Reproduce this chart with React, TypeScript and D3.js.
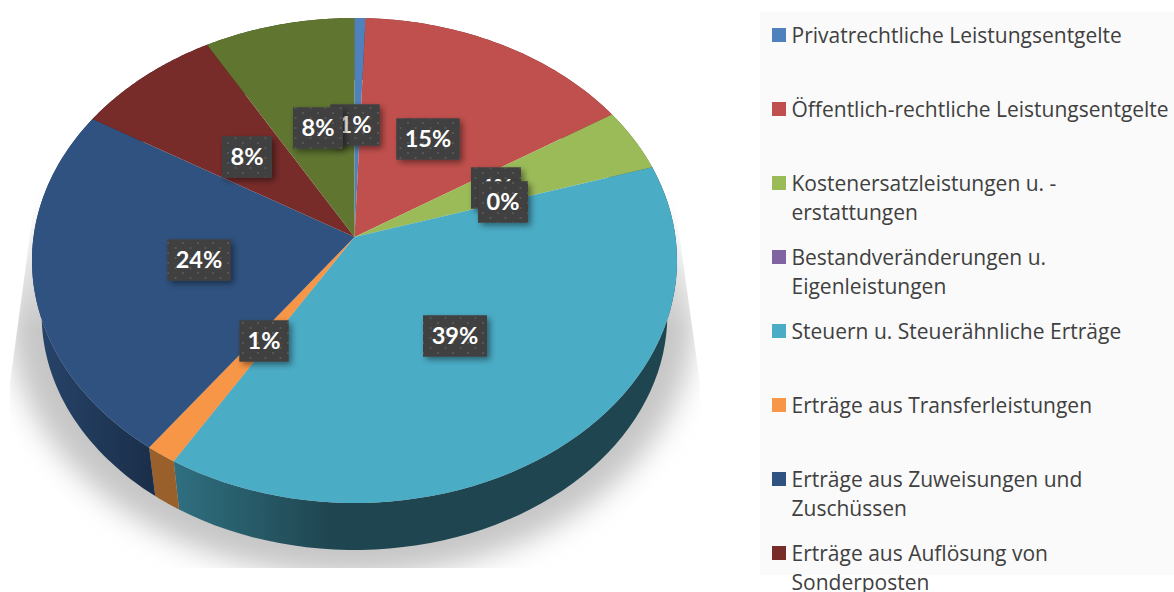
import React from "react";
import * as d3 from "d3";

const categories = [
  ["Privatrechtliche Leistungsentgelte"],
  ["Öffentlich-rechtliche Leistungsentgelte"],
  ["Kostenersatzleistungen u. -", "erstattungen"],
  ["Bestandveränderungen u.", "Eigenleistungen"],
  ["Steuern u. Steuerähnliche Erträge"],
  ["Erträge aus Transferleistungen"],
  ["Erträge aus Zuweisungen und", "Zuschüssen"],
  ["Erträge aus Auflösung von", "Sonderposten"],
  [""],
];
const values = [0.6, 15.4, 4.2, 0, 38.5, 1.4, 23.6, 8.1, 8.3];
const labels = ["1%", "15%", "4%", "0%", "39%", "1%", "24%", "8%", "8%"];

const topColors = ["#4f81bd", "#c0504d", "#9bbb59", "#8064a2", "#4bacc6", "#f79646", "#2f5280", "#772c2a", "#5f7530"];
const sideColors = ["#2c486a", "#6c2d2b", "#576932", "#48385b", "#1f4650", "#9a602b", "#1d3450", "#431917", "#35421b"];
const labelCenters: [number, number][] = [
  [355, 125], [428, 139], [496, 188], [503, 202], [455, 336], [264, 341], [199, 260], [247, 157], [318, 128],
];
const labelWidths = [49, 63, 50, 50, 64, 49, 63, 50, 50];
const legendY = [42, 116, 190, 264, 338, 412, 486, 560];

const W = 1174, H = 592;
const apex = { x: 354.5, y: 237 };
const k = -0.0969, a = 321, b = 240.2;
const depth = { dy: 47, scale: 0.97 };

function project(theta: number, r = 1) {
  const u = Math.sin(theta) * r, v = -Math.cos(theta) * r;
  const w = 1 + k * v;
  return { x: apex.x + (a * u) / w, y: apex.y + (b * v) / w };
}
function projectLow(theta: number) {
  const p = project(theta);
  const cy = 260.5;
  return {
    x: apex.x + (p.x - apex.x) * depth.scale,
    y: cy + (p.y - cy) * depth.scale + depth.dy + 242.5 * (1 - depth.scale),
  };
}
const line = d3.line<{ x: number; y: number }>().x((d) => d.x).y((d) => d.y);
const arcs = d3.pie<number>().sort(null).value((d) => d)(values);
const samples = (s: number, e: number) => d3.range(0, 61).map((i) => s + ((e - s) * i) / 60);

function wedge(s: number, e: number) {
  return line([apex, ...samples(s, e).map((t) => project(t))])! + "Z";
}
function side(s: number, e: number) {
  const ts = samples(s, e);
  return line([...ts.map((t) => project(t)), ...ts.slice().reverse().map((t) => projectLow(t))])! + "Z";
}
const shadowOutline = line(d3.range(0, 121).map((i) => {
  const t = (i / 120) * 2 * Math.PI;
  return { x: 352 + 342 * Math.cos(t), y: 318 + 258 * Math.sin(t) };
}))! + "Z";

export default function App() {
  return (
    <svg width={W} height={H} viewBox={`0 0 ${W} ${H}`} style={{ position: "absolute", left: 0, top: 0, display: "block", background: "#fff" }}>
      <defs>
        <filter id="blurShadow" x="-10%" y="-10%" width="120%" height="120%">
          <feGaussianBlur stdDeviation="14" />
        </filter>
        <filter id="labelShadow" x="-30%" y="-30%" width="170%" height="170%">
          <feDropShadow dx="3" dy="3" stdDeviation="3" floodColor="#000" floodOpacity="0.45" />
        </filter>
        <clipPath id="shadowClip">
          <polygon points="37,183 672,183 700,383 700,568 10,568 10,383" />
        </clipPath>
        <linearGradient id="shadowFade" gradientUnits="userSpaceOnUse" x1="0" x2="0" y1="180" y2="330">
          <stop offset="0" stopColor="#fff" stopOpacity="0" />
          <stop offset="1" stopColor="#fff" stopOpacity="1" />
        </linearGradient>
        <mask id="shadowMask" maskUnits="userSpaceOnUse" x="0" y="0" width={W} height={H}>
          <rect x="0" y="180" width={W} height={H - 180} fill="url(#shadowFade)" />
        </mask>
        <pattern id="dots" width="15" height="10" patternUnits="userSpaceOnUse">
          <rect width="15" height="10" fill="#404040" />
          <rect x="2" y="2" width="2" height="2" fill="#565656" />
          <rect x="9.5" y="7" width="2" height="2" fill="#565656" />
        </pattern>
        <linearGradient id="tealSide" gradientUnits="userSpaceOnUse" x1="175" x2="330" y1="0" y2="0">
          <stop offset="0" stopColor="#2f6f80" />
          <stop offset="1" stopColor="#1f4650" />
        </linearGradient>
        <linearGradient id="navySide" gradientUnits="userSpaceOnUse" x1="32" x2="150" y1="0" y2="0">
          <stop offset="0" stopColor="#27456b" />
          <stop offset="1" stopColor="#1b2f4a" />
        </linearGradient>
      </defs>

      <g clipPath="url(#shadowClip)">
        <g mask="url(#shadowMask)">
          <path d={shadowOutline} fill="#c6c6c6" filter="url(#blurShadow)" />
        </g>
      </g>

      <g>
        {arcs.map((d, i) => (
          <path key={i} d={side(d.startAngle, d.endAngle)}
            fill={i === 4 ? "url(#tealSide)" : i === 6 ? "url(#navySide)" : sideColors[i]} />
        ))}
      </g>
      <g>
        {arcs.map((d, i) => (
          <path key={i} d={wedge(d.startAngle, d.endAngle)} fill={topColors[i]} />
        ))}
      </g>

      <g>
        {labels.map((t, i) => {
          const [cx, cy] = labelCenters[i];
          const w = labelWidths[i];
          return (
            <g key={i}>
              <rect x={cx - w / 2} y={cy - 20.5} width={w} height={41} fill="#404040" filter="url(#labelShadow)" />
              <rect x={cx - w / 2} y={cy - 20.5} width={w} height={41} fill="url(#dots)" />
              <text x={cx} y={cy + 8} textAnchor="middle" fontFamily="Lato" fontWeight={700} fontSize={23.5} fill="#fff">{t}</text>
            </g>
          );
        })}
      </g>

      <rect x={760} y={12} width={414} height={563} fill="#fafafa" />
      <g fontFamily="'Open Sans'" fontSize={21} fill="#404040">
        {legendY.map((y, i) => (
          <g key={i}>
            <rect x={772} y={y - 14} width={14} height={14} fill={topColors[i]} />
            {categories[i].map((s, j) => (
              <text key={j} x={791.5} y={y + 1 + j * 29}>{s}</text>
            ))}
          </g>
        ))}
      </g>
    </svg>
  );
}
